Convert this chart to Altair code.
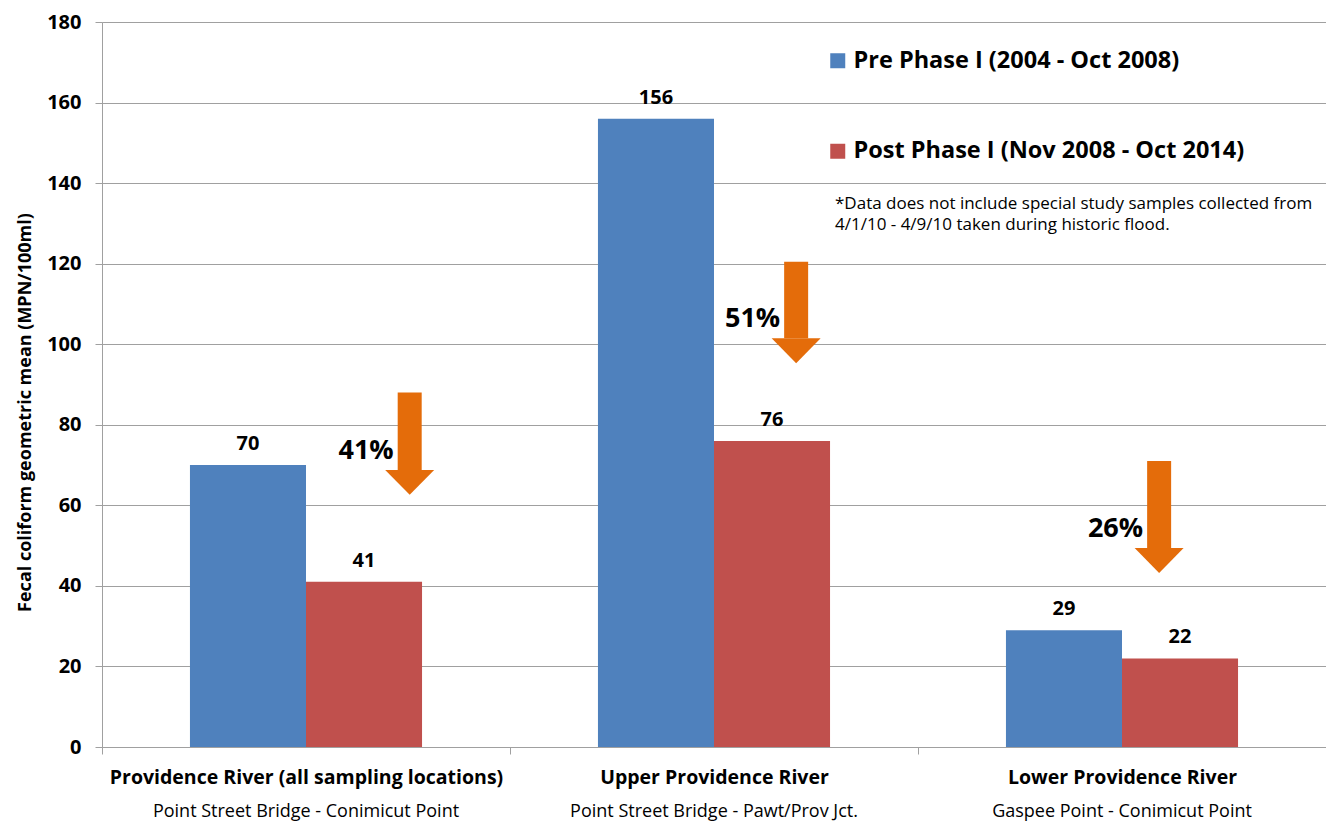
import altair as alt
import pandas as pd

# Categories and series
regions = [
    "Providence River (all sampling locations)",
    "Upper Providence River",
    "Lower Providence River",
]
segments = [
    "Point Street Bridge - Conimicut Point",
    "Point Street Bridge - Pawt/Prov Jct.",
    "Gaspee Point - Conimicut Point",
]
phases = ["Pre Phase I (2004 - Oct 2008)", "Post Phase I (Nov 2008 - Oct 2014)"]
pre_values = [70, 156, 29]
post_values = [41, 76, 22]

# Reduction call-outs: arrow centre (in category units across the x range),
# arrow top and arrow tip (in fecal coliform units)
reduction_labels = ["41%", "51%", "26%"]
arrow_x = [0.748, 1.703, 2.60]
arrow_top = [88, 120.5, 71]
arrow_tip = [62.6, 95.3, 43.2]

note_lines = [
    "*Data does not include special study samples collected from",
    "4/1/10 - 4/9/10 taken during historic flood.",
]

BLUE = "#4F81BD"
RED = "#C0504D"
ORANGE = "#E46C0A"
GRID = "#A0A0A0"
FONT = "Open Sans"
W, H = 1224, 725
HEAD = 6.2  # arrow head height in value units

rows = []
for r, s, a, b in zip(regions, segments, pre_values, post_values):
    rows.append({"region": r, "segment": s, "phase": phases[0], "value": a})
    rows.append({"region": r, "segment": s, "phase": phases[1], "value": b})
bars_df = pd.DataFrame(rows)
seg_df = pd.DataFrame({"region": regions, "segment": segments})

arrows_df = pd.DataFrame({
    "ax": arrow_x,
    "top": arrow_top,
    "head_base": [t + HEAD for t in arrow_tip],
    "head_mid": [t + HEAD / 2 for t in arrow_tip],
    "label_y": [t + 11 for t in arrow_tip],
    "label": reduction_labels,
})

x_band = alt.X(
    "region:N", sort=regions,
    scale=alt.Scale(paddingInner=0, paddingOuter=0),
    axis=alt.Axis(
        title=None, labelAngle=0, tickBand="extent", tickSize=7,
        domainColor=GRID, tickColor=GRID, labelFont=FONT, labelFontSize=19.5,
        labelFontWeight="bold", labelColor="black", labelPadding=14, labelLimit=600,
    ),
)
x_off = alt.XOffset("phase:N", sort=phases,
                    scale=alt.Scale(paddingOuter=0.758, paddingInner=0))
y_scale = alt.Scale(domain=[0, 180], nice=False)

bars = alt.Chart(bars_df).mark_bar().encode(
    x=x_band,
    xOffset=x_off,
    y=alt.Y(
        "value:Q", scale=y_scale,
        axis=alt.Axis(
            values=list(range(0, 181, 20)), grid=True, gridColor=GRID,
            domainColor=GRID, tickColor=GRID, tickSize=7,
            labelFont=FONT, labelFontSize=20, labelFontWeight="bold",
            labelColor="black", labelPadding=14,
            title="Fecal coliform geometric mean (MPN/100ml)",
            titleFont=FONT, titleFontSize=18, titleFontWeight="bold",
            titleColor="black", titleX=-77, titleY=390,
            titleAlign="center", titleBaseline="middle",
        ),
    ),
    color=alt.Color(
        "phase:N", sort=phases,
        scale=alt.Scale(domain=phases, range=[BLUE, RED]),
        legend=alt.Legend(
            title=None, orient="none", legendX=724, legendY=27,
            direction="vertical", symbolType="square", symbolSize=225,
            symbolStrokeWidth=0, labelFont=FONT, labelFontSize=23.5,
            labelFontWeight="bold", labelColor="black", rowPadding=65.5,
            labelOffset=4, labelLimit=600, padding=0,
        ),
    ),
)

values_txt = alt.Chart(bars_df).mark_text(
    font=FONT, fontSize=20, fontWeight="bold", color="black",
    baseline="alphabetic", dy=-15,
).encode(
    x=alt.X("region:N", sort=regions),
    xOffset=alt.XOffset("phase:N", sort=phases),
    y=alt.Y("value:Q", scale=y_scale),
    text=alt.Text("value:Q"),
)

# second line of each category label, set in regular weight under the axis
segments_txt = alt.Chart(seg_df).mark_text(
    font=FONT, fontSize=18, color="black", baseline="alphabetic",
).encode(
    x=alt.X("region:N", sort=regions),
    y=alt.value(H + 70),
    text="segment:N",
)

x_arrow = alt.Scale(domain=[0, 3], nice=False, zero=False)

shafts = alt.Chart(arrows_df).mark_bar(size=24, color=ORANGE).encode(
    x=alt.X("ax:Q", scale=x_arrow, axis=None),
    y=alt.Y("top:Q", scale=y_scale),
    y2="head_base:Q",
)
heads = alt.Chart(arrows_df).mark_point(
    shape="M-1,-0.51L1,-0.51L0,0.51Z", size=2401, filled=True,
    fill=ORANGE, opacity=1, strokeWidth=0,
).encode(
    x=alt.X("ax:Q", scale=x_arrow, axis=None),
    y=alt.Y("head_mid:Q", scale=y_scale),
)
pct_txt = alt.Chart(arrows_df).mark_text(
    font=FONT, fontSize=27, fontWeight="bold", color="black",
    align="right", baseline="middle", dx=-16,
).encode(
    x=alt.X("ax:Q", scale=x_arrow, axis=None),
    y=alt.Y("label_y:Q", scale=y_scale),
    text="label:N",
)

note = alt.Chart(pd.DataFrame({"k": [0]})).mark_text(
    text=note_lines, font=FONT, fontSize=17, color="black",
    align="left", baseline="top", lineHeight=21,
).encode(x=alt.value(733), y=alt.value(174))

band_layers = alt.layer(bars, values_txt, segments_txt)
arrow_layers = alt.layer(shafts, heads, pct_txt, note)

chart = alt.layer(band_layers, arrow_layers).resolve_scale(
    x="independent"
).properties(
    width=W, height=H,
    autosize=alt.AutoSizeParams(type="none"),
    padding={"left": 102, "top": 22, "right": 0, "bottom": 75},
).configure_view(stroke=None).configure(background="white")

chart.save("out.html", embed_options={"renderer": "svg", "actions": False})
